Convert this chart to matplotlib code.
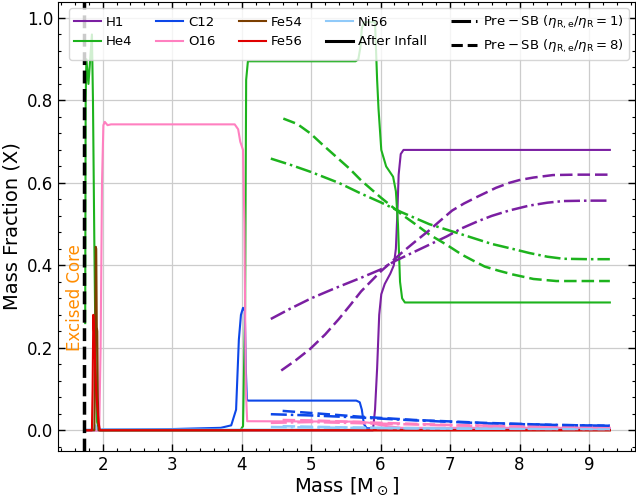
import matplotlib
matplotlib.use('Agg')
import matplotlib.pyplot as plt
from matplotlib.lines import Line2D
from matplotlib.ticker import AutoMinorLocator
import numpy as np

# After infall profiles (mass coordinate, mass fraction)
m_h1 = [1.74, 5.89, 5.92, 5.95, 5.98, 6.01, 6.06, 6.14, 6.19, 6.22, 6.24, 6.26, 6.29, 6.33, 9.30]
x_h1 = [0.0, 0.0, 0.05, 0.15, 0.28, 0.33, 0.355, 0.38, 0.40, 0.44, 0.52, 0.62, 0.67, 0.68, 0.68]

m_he4 = [1.748, 1.755, 1.765, 1.795, 1.82, 1.845, 1.86, 1.88, 1.90, 1.92, 1.95, 3.98, 4.02, 4.05, 4.065,
         4.09, 5.64, 5.68, 5.71, 5.73, 5.76, 5.92, 5.95, 5.97, 6.01, 6.08, 6.18, 6.22, 6.25, 6.28, 6.31,
         6.35, 9.30]
x_he4 = [0.26, 0.80, 0.90, 0.84, 0.90, 0.96, 0.80, 0.45, 0.15, 0.02, 0.0, 0.0, 0.01, 0.3, 0.85,
         0.895, 0.895, 0.90, 0.93, 0.975, 0.99, 0.99, 0.85, 0.78, 0.68, 0.64, 0.615, 0.58, 0.50, 0.36, 0.32,
         0.31, 0.31]

m_c12 = [1.74, 2.0, 3.0, 3.7, 3.85, 3.92, 3.96, 3.99, 4.02, 4.045, 4.06, 4.075, 4.09, 5.65, 5.70,
         5.73, 5.76, 5.80, 6.3, 9.3]
x_c12 = [0.0, 0.002, 0.003, 0.006, 0.012, 0.05, 0.22, 0.28, 0.297, 0.29, 0.15, 0.075, 0.072, 0.072, 0.068,
         0.05, 0.015, 0.005, 0.003, 0.003]

m_o16 = [1.74, 1.95, 1.97, 1.99, 2.01, 2.03, 2.07, 2.12, 3.90, 3.95, 3.98, 4.02, 4.04, 4.06, 4.08,
         5.70, 5.85, 6.0, 6.3, 9.3]
x_o16 = [0.0, 0.0, 0.2, 0.6, 0.74, 0.748, 0.74, 0.742, 0.742, 0.73, 0.70, 0.68, 0.5, 0.1, 0.022,
         0.021, 0.018, 0.012, 0.006, 0.006]

m_fe54 = [1.74, 1.88, 1.893, 1.90, 1.907, 1.915, 1.922, 1.93, 1.94, 9.30]
x_fe54 = [0.0, 0.0, 0.2, 0.445, 0.44, 0.25, 0.24, 0.08, 0.0, 0.0]

m_fe56 = [1.74, 1.845, 1.855, 1.865, 1.875, 1.89, 1.905, 1.92, 1.94, 1.96, 9.30]
x_fe56 = [0.0, 0.0, 0.1, 0.28, 0.24, 0.17, 0.10, 0.06, 0.02, 0.0, 0.0]

m_ni56 = [1.74, 1.88, 1.90, 1.92, 9.30]
x_ni56 = [0.002, 0.002, 0.012, 0.002, 0.001]

# Pre-SB profiles, eta_R,e/eta_R = 1 (dash-dot)
m_h1_p1 = [4.42, 4.7, 5.0, 5.35, 5.72, 6.0, 6.2, 6.45, 6.7, 6.95, 7.17, 7.4, 7.6, 7.85, 8.14, 8.4, 8.63, 9.0, 9.3]
x_h1_p1 = [0.27, 0.295, 0.32, 0.345, 0.37, 0.39, 0.41, 0.43, 0.45, 0.47, 0.49, 0.507, 0.52, 0.533, 0.545,
           0.552, 0.556, 0.557, 0.557]
m_he4_p1 = [4.42, 4.7, 4.99, 5.4, 5.72, 6.0, 6.3, 6.7, 7.17, 7.6, 7.9, 8.14, 8.4, 8.63, 9.0, 9.3]
x_he4_p1 = [0.659, 0.644, 0.627, 0.6, 0.574, 0.553, 0.529, 0.50, 0.475, 0.452, 0.44, 0.43, 0.421, 0.416,
            0.415, 0.415]
m_c12_p1 = [4.42, 5.0, 5.7, 6.5, 7.5, 8.5, 9.3]
x_c12_p1 = [0.039, 0.036, 0.031, 0.024, 0.017, 0.013, 0.011]
m_o16_p1 = [4.42, 5.0, 6.0, 7.0, 8.0, 9.3]
x_o16_p1 = [0.018, 0.02, 0.016, 0.012, 0.009, 0.007]
m_ni56_p1 = [4.42, 5.5, 7.0, 9.3]
x_ni56_p1 = [0.008, 0.006, 0.004, 0.003]

# Pre-SB profiles, eta_R,e/eta_R = 8 (dashed)
m_h1_p8 = [4.57, 4.78, 4.99, 5.2, 5.4, 5.56, 5.72, 6.0, 6.3, 6.5, 6.7, 6.87, 7.03, 7.2, 7.4, 7.66, 7.85, 8.0,
           8.2, 8.48, 8.8, 9.3]
x_h1_p8 = [0.145, 0.17, 0.198, 0.232, 0.27, 0.303, 0.337, 0.385, 0.43, 0.458, 0.485, 0.51, 0.533, 0.55,
           0.567, 0.588, 0.6, 0.607, 0.613, 0.619, 0.62, 0.62]
m_he4_p8 = [4.6, 4.8, 4.99, 5.15, 5.35, 5.55, 5.72, 6.0, 6.3, 6.5, 6.7, 6.95, 7.17, 7.35, 7.5, 7.7, 7.9, 8.2,
            8.53, 8.8, 9.3]
x_he4_p8 = [0.756, 0.743, 0.72, 0.695, 0.665, 0.635, 0.606, 0.565, 0.524, 0.5, 0.475, 0.45, 0.426, 0.41,
            0.397, 0.387, 0.378, 0.367, 0.362, 0.362, 0.362]
m_c12_p8 = [4.59, 5.0, 5.7, 6.5, 7.5, 8.5, 9.3]
x_c12_p8 = [0.047, 0.042, 0.033, 0.025, 0.018, 0.013, 0.011]
m_o16_p8 = [4.59, 5.0, 6.0, 7.0, 8.0, 9.3]
x_o16_p8 = [0.025, 0.024, 0.018, 0.013, 0.01, 0.008]
m_ni56_p8 = [4.59, 5.5, 7.0, 9.3]
x_ni56_p8 = [0.010, 0.007, 0.004, 0.003]

m_excised = 1.725

colors = {'H1': '#7b1fa2', 'He4': '#1db31d', 'C12': '#0d47e8', 'O16': '#ff80c0',
          'Fe54': '#7b3f00', 'Fe56': '#e00000', 'Ni56': '#90caf9'}

fig = plt.figure(figsize=(6.36, 4.99), dpi=100)
ax = fig.add_axes([58.3 / 636, 48.3 / 499, 576.7 / 636, 449.0 / 499])

lw = 1.5
ax.plot(m_h1, x_h1, color=colors['H1'], lw=lw)
ax.plot(m_he4, x_he4, color=colors['He4'], lw=lw)
ax.plot(m_c12, x_c12, color=colors['C12'], lw=lw)
ax.plot(m_o16, x_o16, color=colors['O16'], lw=lw)
ax.plot(m_ni56, x_ni56, color=colors['Ni56'], lw=lw)
ax.plot(m_fe54, x_fe54, color=colors['Fe54'], lw=lw)
ax.plot(m_fe56, x_fe56, color=colors['Fe56'], lw=lw)

dd = (0, (6.4, 1.6, 1.0, 1.6))
ds = (0, (5, 2))
for m, x, c in [(m_ni56_p1, x_ni56_p1, 'Ni56'), (m_o16_p1, x_o16_p1, 'O16'),
                (m_c12_p1, x_c12_p1, 'C12'), (m_he4_p1, x_he4_p1, 'He4'),
                (m_h1_p1, x_h1_p1, 'H1')]:
    ax.plot(m, x, color=colors[c], lw=1.8, linestyle=dd)
for m, x, c in [(m_ni56_p8, x_ni56_p8, 'Ni56'), (m_o16_p8, x_o16_p8, 'O16'),
                (m_c12_p8, x_c12_p8, 'C12'), (m_he4_p8, x_he4_p8, 'He4'),
                (m_h1_p8, x_h1_p8, 'H1')]:
    ax.plot(m, x, color=colors[c], lw=1.8, linestyle=ds)

ax.axvline(m_excised, color='black', lw=2.5, linestyle='--', zorder=5)
ax.text(1.60, 0.323, 'Excised Core', rotation=90, color='darkorange',
        fontsize=12, ha='center', va='center')

ax.set_xlim(1.361, 9.662)
ax.set_ylim(-0.0495, 1.0395)
ax.set_xlabel(r'Mass [$\mathrm{M}_\odot$]', fontsize=14, labelpad=1)
ax.set_ylabel('Mass Fraction (X)', fontsize=14)

ax.xaxis.set_minor_locator(AutoMinorLocator(5))
ax.yaxis.set_minor_locator(AutoMinorLocator(5))
ax.tick_params(which='both', direction='in', top=True, right=True, labelsize=12)
ax.tick_params(which='major', length=5, width=1)
ax.tick_params(which='minor', length=2.5, width=0.8)
ax.grid(True, color='0.8', lw=0.9)
ax.set_axisbelow(True)

handles = [Line2D([], [], color=colors[k], lw=lw) for k in ['H1', 'He4', 'C12', 'O16', 'Fe54', 'Fe56', 'Ni56']]
labels = ['H1', 'He4', 'C12', 'O16', 'Fe54', 'Fe56', 'Ni56']
handles += [Line2D([], [], color='black', lw=2.2),
            Line2D([], [], color='black', lw=2.2, linestyle='-.'),
            Line2D([], [], color='black', lw=2.2, linestyle='--')]
labels += ['After Infall',
           r'$\mathrm{Pre-SB}\ (\eta_{\mathrm{R,e}}/\eta_{\mathrm{R}}=1)$',
           r'$\mathrm{Pre-SB}\ (\eta_{\mathrm{R,e}}/\eta_{\mathrm{R}}=8)$']
ax.legend(handles, labels, ncol=5, loc='upper center', fontsize=9.5,
          handletextpad=0.4, columnspacing=1.8, bbox_to_anchor=(0.504, 1.0))

fig.savefig('out.png', dpi=100)
